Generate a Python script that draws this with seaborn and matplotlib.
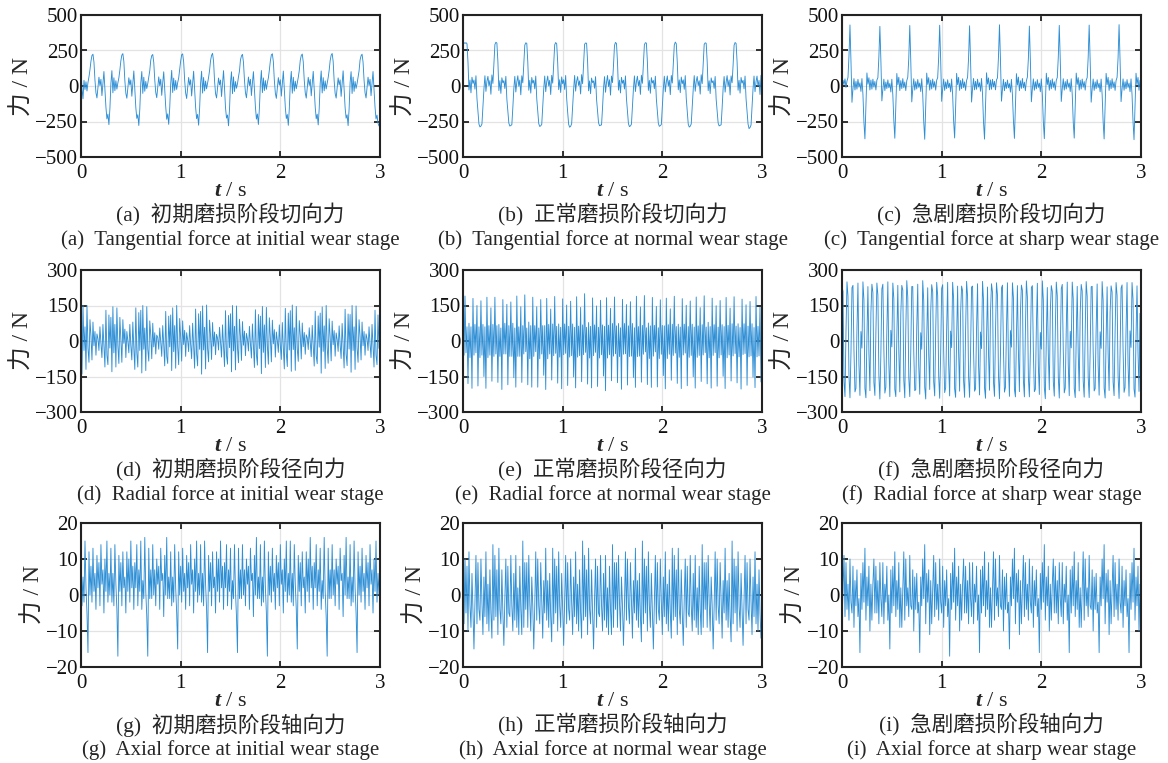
import numpy as np
import matplotlib
matplotlib.use("Agg")
import matplotlib.pyplot as plt
import seaborn as sns

# ---- data (N), sampled every 0.01 s from 0 to 3 s ----
tan_initial = [
    110, -20, -90, 40, -25, 30, -35, 25, 65, 115, 175, 215,
    224, 168, 42, -48, -84, -8, 62, 3, 47, -68, 22, 102, -22, -148, -232, -198, -272, -158, 18, 108, -48, 58, -33, 37, -22, 22, 58, 112, 178, 218,
    228, 172, 38, -52, -86, -12, 58, 7, 43, -72, 18, 106, -18, -152, -228, -202, -278, -162, 22, 102, -52, 62, -37, 33, -18, 18, 62, 108, 182, 214,
    222, 166, 44, -46, -82, -6, 64, 2, 48, -66, 24, 100, -24, -146, -234, -196, -270, -156, 16, 110, -46, 56, -31, 39, -24, 24, 56, 114, 176, 220,
    226, 170, 40, -50, -88, -10, 60, 6, 44, -70, 20, 104, -20, -150, -230, -200, -276, -160, 20, 104, -50, 60, -35, 35, -20, 20, 60, 110, 180, 216,
    230, 174, 36, -54, -84, -14, 56, 8, 42, -74, 16, 108, -16, -154, -226, -204, -280, -164, 24, 100, -54, 64, -39, 31, -16, 16, 64, 106, 184, 212,
    223, 167, 43, -47, -83, -7, 63, 3, 47, -67, 23, 101, -23, -147, -233, -197, -271, -157, 17, 109, -47, 57, -32, 38, -23, 23, 57, 113, 177, 219,
    227, 171, 39, -51, -87, -11, 59, 6, 44, -71, 19, 105, -19, -151, -229, -201, -277, -161, 21, 103, -51, 61, -36, 34, -19, 19, 61, 109, 181, 215,
    225, 169, 41, -49, -85, -9, 61, 4, 46, -69, 21, 103, -21, -149, -231, -199, -274, -159, 19, 106, -49, 59, -34, 36, -21, 21, 59, 111, 179, 217,
    229, 173, 37, -53, -85, -13, 57, 7, 43, -73, 17, 107, -17, -153, -227, -203, -279, -163, 23, 101, -53, 63, -38, 32, -17, 17, 63, 107, 183, 213,
    224, 168, 42, -48, -84, -8, 62, 3, 47, -68, 22, 102, -22, -148, -232, -205, -262, -282, -250,
]
tan_normal = [
    295, 305, 300,
    305, 298, 168, -28, 42, -48, 62, 18, 42, -22, 72, -88, -182, -268, -288, -282, -268, -148, -22, 72, -38, 32, 68, 2, 38, -58, 78, 18, 152, 292,
    308, 302, 172, -32, 38, -52, 58, 22, 38, -18, 68, -92, -178, -262, -282, -278, -272, -152, -18, 68, -42, 28, 72, -2, 42, -62, 72, 22, 148, 288,
    304, 300, 170, -30, 40, -50, 60, 20, 40, -20, 70, -90, -180, -265, -285, -280, -270, -150, -20, 70, -40, 30, 70, 0, 40, -60, 75, 20, 150, 290,
    306, 297, 166, -26, 44, -46, 64, 16, 44, -24, 74, -86, -184, -270, -290, -284, -266, -146, -24, 74, -36, 34, 66, 4, 36, -56, 80, 16, 154, 294,
    303, 301, 174, -34, 36, -54, 56, 24, 36, -16, 66, -94, -176, -260, -280, -276, -274, -154, -16, 66, -44, 26, 74, -4, 44, -64, 70, 24, 146, 286,
    307, 299, 169, -29, 41, -49, 61, 19, 41, -21, 71, -89, -181, -266, -286, -281, -269, -149, -21, 71, -39, 31, 69, 1, 39, -59, 76, 19, 151, 291,
    305, 302, 171, -31, 39, -51, 59, 21, 39, -19, 69, -91, -179, -264, -284, -279, -271, -151, -19, 69, -41, 29, 71, -1, 41, -61, 74, 21, 149, 289,
    309, 298, 167, -27, 43, -47, 63, 17, 43, -23, 73, -87, -183, -269, -289, -283, -267, -147, -23, 73, -37, 33, 67, 3, 37, -57, 79, 17, 153, 293,
    304, 301, 173, -33, 37, -53, 57, 23, 37, -17, 67, -93, -177, -261, -281, -277, -273, -153, -17, 67, -43, 27, 73, -3, 43, -63, 71, 23, 147, 287,
    306, 300, 170, -30, 40, -50, 60, 20, 40, -20, 70, -90, -180, -268, -300, -292, -275, -150, -20, 70, -40, 30, 70, 0, 40, -60, 75, -20,
]
tan_sharp = [
    -20, 40, 10, 50, -10, 35, 60, 210,
    430, 175, -115, -18, 52, -28, 32, -22, 47, -8, 22, -38, 52, -58, -255, -372, -148, 92, 12, 58, -28, 42, -22, 48, -8, 32, -28, 42, 58, 205,
    420, 185, -105, -22, 48, -32, 28, -18, 43, -12, 18, -42, 48, -62, -245, -368, -152, 88, 8, 62, -32, 38, -18, 52, -12, 28, -32, 38, 62, 195,
    426, 178, -112, -19, 51, -29, 31, -21, 46, -9, 21, -39, 51, -59, -252, -375, -149, 91, 11, 59, -29, 41, -21, 49, -9, 31, -29, 41, 59, 202,
    428, 182, -108, -21, 49, -31, 29, -19, 44, -11, 19, -41, 49, -61, -248, -366, -151, 89, 9, 61, -31, 39, -19, 51, -11, 29, -31, 39, 61, 198,
    424, 177, -113, -17, 53, -27, 33, -23, 48, -7, 23, -37, 53, -57, -256, -374, -147, 93, 13, 57, -27, 43, -23, 47, -7, 33, -27, 43, 57, 206,
    431, 183, -107, -23, 47, -33, 27, -17, 42, -13, 17, -43, 47, -63, -244, -369, -153, 87, 7, 63, -33, 37, -17, 53, -13, 27, -33, 37, 63, 194,
    422, 179, -111, -20, 50, -30, 30, -20, 45, -10, 20, -40, 50, -60, -250, -371, -150, 90, 10, 60, -30, 40, -20, 50, -10, 30, -30, 40, 60, 200,
    427, 181, -109, -19, 51, -29, 31, -21, 46, -9, 21, -39, 51, -59, -251, -367, -149, 91, 11, 59, -29, 41, -21, 49, -9, 31, -29, 41, 59, 201,
    429, 176, -114, -21, 49, -31, 29, -19, 44, -11, 19, -41, 49, -61, -249, -373, -151, 89, 9, 61, -31, 39, -19, 51, -11, 29, -31, 39, 61, 199,
    432, 180, -110, -20, 50, -30, 30, -20, 45, -10, 20, -40, 50, -60, -250, -378, -150, 90, 10, 60, -30, 40, -20,
]
rad_initial = [
    120, -140, 150, -40, 60, -120, 150, -30, -90, 90, 20, -80, 80, -20, 40, -60, 30, 10, -40, 60, -10, -70, 70, -20, -110, 130, -60, -100, 110, -30,
    100, -130, 145, -50, 70, -110, 140, -20, -95, 100, 10, -90, 90, -10, 50, -70, 40, 0, -50, 70, -20, -80, 80, -30, -120, 140, -50, -110, 120, -40,
    130, -135, 150, -35, 55, -125, 145, -35, -85, 85, 25, -75, 75, -25, 35, -55, 25, 15, -35, 55, -5, -65, 65, -15, -105, 125, -65, -95, 105, -25,
    110, -125, 140, -45, 65, -115, 150, -25, -100, 95, 15, -85, 85, -15, 45, -65, 35, 5, -45, 65, -15, -75, 75, -25, -115, 135, -55, -105, 115, -35,
    125, -140, 148, -38, 58, -118, 152, -32, -88, 88, 22, -78, 78, -22, 38, -58, 28, 12, -38, 58, -8, -68, 68, -18, -108, 128, -62, -98, 108, -28,
    115, -130, 150, -42, 62, -122, 148, -28, -92, 92, 18, -82, 82, -18, 42, -62, 32, 8, -42, 62, -12, -72, 72, -22, -112, 132, -58, -102, 112, -32,
    105, -138, 146, -48, 68, -112, 142, -22, -98, 98, 12, -88, 88, -12, 48, -68, 38, 2, -48, 68, -18, -78, 78, -28, -118, 138, -52, -108, 118, -38,
    128, -128, 152, -36, 56, -124, 146, -34, -86, 86, 24, -76, 76, -24, 36, -56, 26, 14, -36, 56, -6, -66, 66, -16, -106, 126, -64, -96, 106, -26,
    118, -136, 144, -44, 64, -116, 150, -26, -94, 94, 16, -84, 84, -16, 44, -64, 34, 6, -44, 64, -14, -74, 74, -24, -114, 134, -56, -104, 114, -34,
    112, -132, 150, -40, 60, -120, 148, -30, -90, 90, 20, -80, 80, -20, 40, -60, 30, 10, -40, 60, -10, -70, 70, -20, -110, 130, -60, -100, 110, -30,
    -40,
]
rad_normal = [
    75, -60, 190, -50, 60, -180, 75, -70, 60, -200, 180, -60, 70, -50, 150, -190, 60, -70, 170, -60, 70, -150, 60, -200, 185, -70, 65, -60, 140, -170,
    70, -65, 185, -55, 65, -175, 70, -65, 55, -205, 175, -55, 75, -55, 155, -185, 65, -65, 165, -65, 75, -155, 55, -195, 190, -65, 60, -65, 145, -175,
    65, -55, 195, -45, 55, -185, 80, -75, 65, -195, 185, -65, 65, -45, 145, -195, 55, -75, 175, -55, 65, -145, 65, -205, 180, -75, 70, -55, 135, -165,
    72, -62, 188, -52, 62, -178, 72, -68, 58, -202, 178, -58, 72, -52, 152, -188, 62, -68, 168, -62, 72, -152, 58, -198, 187, -68, 63, -62, 142, -172,
    68, -58, 200, -48, 58, -182, 78, -72, 62, -198, 182, -62, 68, -48, 148, -192, 58, -72, 172, -58, 68, -148, 62, -210, 183, -72, 67, -58, 138, -168,
    74, -64, 186, -54, 64, -176, 74, -66, 56, -204, 176, -56, 74, -54, 154, -186, 64, -66, 166, -64, 74, -154, 56, -196, 189, -66, 61, -64, 144, -174,
    66, -56, 192, -46, 56, -184, 76, -74, 64, -196, 184, -64, 66, -46, 146, -194, 56, -74, 174, -56, 66, -146, 64, -202, 181, -74, 69, -56, 136, -166,
    71, -61, 189, -51, 61, -179, 71, -69, 59, -201, 179, -59, 71, -51, 151, -189, 61, -69, 169, -61, 71, -151, 59, -199, 186, -69, 64, -61, 141, -171,
    69, -59, 191, -49, 59, -181, 79, -71, 61, -199, 181, -61, 69, -49, 149, -191, 59, -71, 171, -59, 69, -149, 61, -201, 184, -71, 66, -59, 139, -169,
    73, -63, 187, -53, 63, -177, 73, -67, 57, -203, 177, -57, 73, -53, 153, -187, 63, -67, 167, -63, 73, -153, 57, -197, 188, -67, 62, -63, 143, -173,
    160,
]
rad_sharp = [
    230, 210, -170, -235, 40, 250, 190, -150, -240, -50, 225, 235, -40, -215, -200, 50, 245, -100, -230, 40, -30, 250, 175, -200, -240, 10, 230, -50, -210, 120,
    240, 205, -175, -230, 35, 245, 195, -145, -245, -55, 220, 240, -35, -220, -195, 45, 250, -95, -235, 45, -25, 245, 180, -205, -235, 15, 235, -45, -215, 115,
    235, 215, -165, -240, 45, 255, 185, -155, -235, -45, 230, 230, -45, -210, -205, 55, 240, -105, -225, 35, -35, 255, 170, -195, -245, 5, 225, -55, -205, 125,
    238, 208, -172, -232, 38, 248, 192, -148, -242, -52, 222, 238, -38, -218, -198, 48, 248, -98, -232, 42, -28, 248, 178, -202, -238, 12, 232, -48, -212, 118,
    232, 212, -168, -238, 42, 252, 188, -152, -238, -48, 228, 232, -42, -212, -202, 52, 242, -102, -228, 38, -32, 252, 172, -198, -242, 8, 228, -52, -208, 122,
    242, 206, -174, -234, 36, 246, 194, -146, -244, -54, 224, 236, -36, -216, -196, 46, 246, -96, -234, 44, -26, 246, 182, -204, -236, 14, 234, -46, -214, 116,
    236, 214, -166, -236, 44, 254, 186, -154, -236, -46, 226, 234, -44, -214, -204, 54, 244, -104, -226, 36, -34, 254, 174, -196, -244, 6, 226, -54, -206, 124,
    234, 209, -171, -233, 39, 249, 191, -149, -241, -51, 221, 239, -39, -219, -199, 49, 249, -99, -231, 41, -29, 249, 179, -201, -239, 11, 231, -49, -211, 119,
    239, 211, -169, -237, 41, 251, 189, -151, -239, -49, 229, 231, -41, -211, -201, 51, 241, -101, -229, 39, -31, 251, 171, -199, -241, 9, 229, -51, -209, 121,
    233, 207, -173, -231, 37, 247, 193, -147, -243, -53, 223, 237, -37, -217, -197, 47, 247, -97, -233, 43, -27, 247, 177, -203, -237, 13, 233, -47, -213, 117,
    -200,
]
ax_initial = [
    14, -3, 5, -2, 15, 2, -5, -16, 12, 0, 8, -2, 13, 1, 6, -4, 11, 2, 9, -3, 14, 3, 7, -5, 10, 1, 15, -2, 6, 0,
    13, -2, 6, -3, 14, 3, -4, -17, 11, 1, 9, -3, 12, 2, 5, -5, 12, 1, 10, -2, 15, 2, 8, -4, 9, 2, 14, -3, 7, 1,
    15, -4, 4, -1, 16, 1, -6, -17, 13, -1, 7, -1, 14, 0, 7, -3, 10, 3, 8, -4, 13, 4, 6, -6, 11, 0, 16, -1, 5, -1,
    12, -3, 5, -2, 14, 2, -5, -15, 12, 0, 8, -2, 13, 1, 6, -4, 11, 2, 9, -3, 14, 3, 7, -5, 10, 1, 15, -2, 6, 0,
    14, -2, 6, -3, 15, 3, -4, -16, 11, 1, 9, -3, 12, 2, 5, -5, 12, 1, 10, -2, 15, 2, 8, -4, 9, 2, 14, -3, 7, 1,
    13, -4, 4, -1, 14, 1, -6, -16, 13, -1, 7, -1, 14, 0, 7, -3, 10, 3, 8, -4, 13, 4, 6, -6, 11, 0, 16, -1, 5, -1,
    14, -3, 5, -2, 15, 2, -5, -17, 12, 0, 8, -2, 13, 1, 6, -4, 11, 2, 9, -3, 14, 3, 7, -5, 10, 1, 15, -2, 6, 0,
    15, -2, 6, -3, 14, 3, -4, -15, 11, 1, 9, -3, 12, 2, 5, -5, 12, 1, 10, -2, 16, 2, 8, -4, 9, 2, 14, -3, 7, 1,
    13, -4, 4, -1, 16, 1, -6, -17, 13, -1, 7, -1, 14, 0, 7, -3, 10, 3, 8, -4, 13, 4, 6, -6, 11, 0, 16, -1, 5, -1,
    14, -3, 5, -2, 15, 2, -5, -16, 12, 0, 8, -2, 13, 1, 6, -4, 11, 2, 9, -3, 14, 3, 7, -5, 10, 1, 15, -2, 6, 0,
    10,
]
ax_normal = [
    15, -8, 10, -5, 8, -10, 12, -3, -9, 6, -4, -15, -2, 11, -8, 9, -4, -7, 10, -2, -11, 5, -6, 12, -8, 3, -10, 7, -5, -12,
    14, -7, 11, -6, 7, -11, 13, -4, -8, 7, -5, -14, -1, 10, -9, 8, -5, -6, 11, -3, -10, 6, -7, 11, -9, 2, -11, 8, -4, -11,
    15, -9, 9, -4, 9, -9, 11, -2, -10, 5, -3, -15, -3, 12, -7, 10, -3, -8, 9, -1, -12, 4, -5, 13, -7, 4, -9, 6, -6, -13,
    13, -8, 10, -5, 8, -10, 12, -3, -9, 6, -4, -14, -2, 11, -8, 9, -4, -7, 10, -2, -11, 5, -6, 12, -8, 3, -10, 7, -5, -12,
    15, -7, 11, -6, 7, -11, 13, -4, -8, 7, -5, -15, -1, 10, -9, 8, -5, -6, 11, -3, -10, 6, -7, 11, -9, 2, -11, 8, -4, -11,
    14, -9, 9, -4, 9, -9, 11, -2, -10, 5, -3, -14, -3, 12, -7, 10, -3, -8, 9, -1, -12, 4, -5, 13, -7, 4, -9, 6, -6, -13,
    15, -8, 10, -5, 8, -10, 12, -3, -9, 6, -4, -15, -2, 11, -8, 9, -4, -7, 10, -2, -11, 5, -6, 12, -8, 3, -10, 7, -5, -12,
    13, -7, 11, -6, 7, -11, 13, -4, -8, 7, -5, -14, -1, 10, -9, 8, -5, -6, 11, -3, -10, 6, -7, 11, -9, 2, -11, 8, -4, -11,
    14, -9, 9, -4, 9, -9, 11, -2, -10, 5, -3, -15, -3, 12, -7, 10, -3, -8, 9, -1, -12, 4, -5, 13, -7, 4, -9, 6, -6, -13,
    15, -8, 10, -5, 8, -10, 12, -3, -9, 6, -4, -14, -2, 11, -8, 9, -4, -7, 10, -2, -11, 5, -6, 12, -8, 3, -10, 7, -5, -12,
    -4,
]
ax_sharp = [
    -8, 2, 11, -6, 9, -4, 3, -7, 10, -2, -5, 8, -9, 4, -3, 7, -6, -1, -16, 6, -4, 9, -2, 13, -7, 5, -3, 8, -10, 3,
    -7, 3, 10, -5, 8, -5, 4, -8, 9, -1, -6, 9, -8, 3, -2, 8, -7, 0, -15, 7, -5, 8, -3, 12, -6, 4, -4, 9, -9, 2,
    -9, 1, 12, -7, 10, -3, 2, -6, 11, -3, -4, 7, -10, 5, -4, 6, -5, -2, -16, 5, -3, 10, -1, 14, -8, 6, -2, 7, -11, 4,
    -8, 2, 11, -6, 9, -4, 3, -7, 10, -2, -5, 8, -9, 4, -3, 7, -6, -1, -17, 6, -4, 9, -2, 13, -7, 5, -3, 8, -10, 3,
    -7, 3, 10, -5, 8, -5, 4, -8, 9, -1, -6, 9, -8, 3, -2, 8, -7, 0, -16, 7, -5, 8, -3, 12, -6, 4, -4, 9, -9, 2,
    -9, 1, 12, -7, 10, -3, 2, -6, 11, -3, -4, 7, -10, 5, -4, 6, -5, -2, -15, 5, -3, 10, -1, 13, -8, 6, -2, 7, -11, 4,
    -8, 2, 11, -6, 9, -4, 3, -7, 10, -2, -5, 8, -9, 4, -3, 7, -6, -1, -16, 6, -4, 9, -2, 14, -7, 5, -3, 8, -10, 3,
    -7, 3, 10, -5, 8, -5, 4, -8, 9, -1, -6, 9, -8, 3, -2, 8, -7, 0, -16, 7, -5, 8, -3, 12, -6, 4, -4, 9, -9, 2,
    -9, 1, 12, -7, 10, -3, 2, -6, 11, -3, -4, 7, -10, 5, -4, 6, -5, -2, -16, 5, -3, 10, -1, 14, -8, 6, -2, 7, -11, 4,
    -8, 2, 11, -6, 9, -4, 3, -7, 10, -2, -5, 8, -9, 4, -3, 7, -6, -1, -16, 6, -4, 9, -2, 13, -7, 5, -3, 8, -10, 3,
    -4,
]

series = [
    [tan_initial, tan_normal, tan_sharp],
    [rad_initial, rad_normal, rad_sharp],
    [ax_initial, ax_normal, ax_sharp],
]
y_limits = [500, 300, 20]
y_ticks = [[-500, -250, 0, 250, 500], [-300, -150, 0, 150, 300], [-20, -10, 0, 10, 20]]
x_ticks = [0, 1, 2, 3]

captions_cn = [
    ["(a)  初期磨损阶段切向力", "(b)  正常磨损阶段切向力", "(c)  急剧磨损阶段切向力"],
    ["(d)  初期磨损阶段径向力", "(e)  正常磨损阶段径向力", "(f)  急剧磨损阶段径向力"],
    ["(g)  初期磨损阶段轴向力", "(h)  正常磨损阶段轴向力", "(i)  急剧磨损阶段轴向力"],
]
captions_en = [
    ["(a)  Tangential force at initial wear stage", "(b)  Tangential force at normal wear stage",
     "(c)  Tangential force at sharp wear stage"],
    ["(d)  Radial force at initial wear stage", "(e)  Radial force at normal wear stage",
     "(f)  Radial force at sharp wear stage"],
    ["(g)  Axial force at initial wear stage", "(h)  Axial force at normal wear stage",
     "(i)  Axial force at sharp wear stage"],
]

# ---- style ----
sns.set_theme(style="ticks")
plt.rcParams["font.family"] = ["Liberation Serif", "Noto Sans CJK SC"]
plt.rcParams["mathtext.fontset"] = "custom"
plt.rcParams["mathtext.it"] = "Liberation Serif:italic:bold"
plt.rcParams["mathtext.rm"] = "Liberation Serif"
plt.rcParams["axes.unicode_minus"] = True

line_color = "#2f8fd5"
W, H = 1168, 763
fig = plt.figure(figsize=(W / 100, H / 100), dpi=100)

col_left = [81, 463, 842]
col_width = 299
row_top = [15, 270, 523]
row_height = [142, 142, 144]
cap_cn_y = [215, 470, 725]
cap_en_y = [240, 495, 750]

for r in range(3):
    for c in range(3):
        vals = np.array(series[r][c], dtype=float)
        t = np.linspace(0, 3, len(vals))
        ax = fig.add_axes([col_left[c] / W, 1 - (row_top[r] + row_height[r]) / H,
                           col_width / W, row_height[r] / H])
        sns.lineplot(x=t, y=vals, ax=ax, color=line_color, linewidth=0.65,
                     estimator=None, sort=False)
        lim = y_limits[r]
        ax.set_xlim(0, 3)
        ax.set_ylim(-lim, lim)
        ax.set_xticks(x_ticks)
        ax.set_yticks(y_ticks[r])
        ax.grid(True, color="#e3e3e3", linewidth=0.9)
        ax.set_axisbelow(True)
        ax.tick_params(direction="in", top=True, right=True, length=4, width=1.2,
                       labelsize=15, colors="#111111")
        ax.tick_params(axis="x", pad=5)
        ax.tick_params(axis="y", pad=2)
        for s in ax.spines.values():
            s.set_linewidth(1.5)
            s.set_color("#222222")
        ax.set_xlabel("$t$ / s", fontsize=16, labelpad=-1)
        ax.set_ylabel("力 / N", fontsize=17, labelpad=1)
        xc = (col_left[c] + col_width / 2) / W
        fig.text(xc, 1 - cap_cn_y[r] / H, captions_cn[r][c], ha="center", va="center",
                 fontsize=15.5)
        fig.text(xc, 1 - cap_en_y[r] / H, captions_en[r][c], ha="center", va="center",
                 fontsize=15)

fig.savefig("out.png", dpi=100)
